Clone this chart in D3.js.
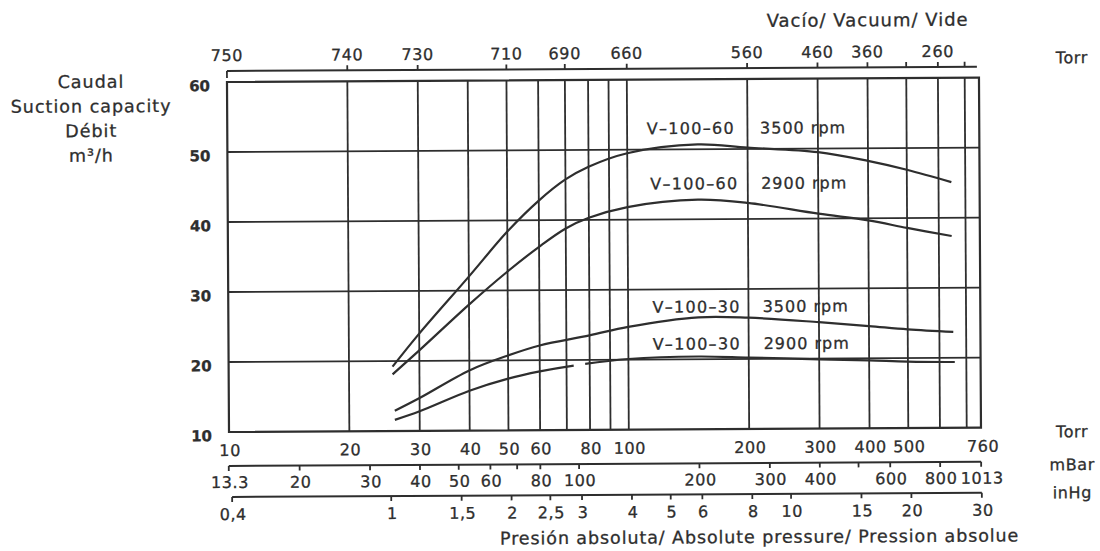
<!DOCTYPE html>
<html>
<head>
<meta charset="utf-8">
<script src="https://cdn.jsdelivr.net/npm/d3@7"></script>
<style>
body { margin: 0; background: #fff; }
svg text { font-family: "DejaVu Sans", sans-serif; fill: #2e2e2e; stroke: #2e2e2e; stroke-width: 0.3px; }
</style>
</head>
<body>
<svg width="1100" height="551"></svg>
<script>
var width = 1100;
var height = 551;
var plotLeft = 229, plotRight = 981, plotTop = 82, plotBottom = 432;
var tilt = -0.33; // the scan is slightly rotated

// absolute pressure (Torr) -> suction capacity (m3/h)
var p60_3500 = [25.7, 30, 40, 50, 60, 70, 80, 100, 150, 200, 300, 400, 500, 646];
var q60_3500 = [19.2, 23.9, 32.0, 38.4, 42.8, 45.8, 47.6, 49.5, 50.7, 50.2, 49.5, 48.2, 46.9, 45.1];
var p60_2900 = [25.7, 30, 40, 50, 60, 70, 80, 100, 150, 200, 300, 400, 500, 646];
var q60_2900 = [18.1, 21.5, 28.0, 32.7, 36.2, 38.8, 40.3, 41.8, 42.8, 42.3, 40.7, 39.7, 38.6, 37.4];
var p30_3500 = [26, 30, 40, 50, 60, 80, 100, 150, 200, 300, 400, 500, 650];
var q30_3500 = [12.9, 14.7, 18.6, 20.7, 22.1, 23.5, 24.7, 26.0, 25.9, 25.2, 24.6, 24.1, 23.7];
var p30_2900 = [26, 30, 40, 50, 60, 75, 100, 150, 200, 300, 400, 500, 655];
var q30_2900 = [11.6, 12.8, 15.7, 17.4, 18.4, 19.3, 20.1, 20.4, 20.2, 19.9, 19.7, 19.5, 19.4];
var gap30_2900 = [73, 78]; // small break in the printed line

var seriesNames = ["V–100–60", "V–100–60", "V–100–30", "V–100–30"];
var seriesSpeeds = ["3500 rpm", "2900 rpm", "3500 rpm", "2900 rpm"];
var nameAtTorr = [112, 114, 115, 115];
var speedAtTorr = [215, 216, 217, 218];
var labelAtQ = [52.2, 44.3, 26.7, 21.4];

// axes
var yTicks = [10, 20, 30, 40, 50, 60];
var gridTorr = [20, 30, 40, 50, 60, 70, 80, 90, 100, 200, 300, 400, 500, 600, 700];
var torrTicks = [10, 20, 30, 40, 50, 60, 80, 100, 200, 300, 400, 500, 760];
var vacTickTorr = [10, 20, 30, 50, 70, 100, 200, 300, 400, 500, 600, 700];
var vacLabels = ["750", "740", "730", "710", "690", "660", "560", "460", "360", "", "260", ""];
var mbarTicks = [13.3, 20, 30, 40, 50, 60, 70, 80, 100, 200, 300, 400, 500, 600, 800, 1013];
var mbarLabels = ["13.3", "20", "30", "40", "50", "60", "", "80", "100", "200", "300", "400", "", "600", "800", "1013"];
var inhgTicks = [0.4, 1, 1.5, 2, 2.5, 3, 4, 5, 6, 8, 10, 15, 20, 30];
var inhgLabels = ["0,4", "1", "1,5", "2", "2,5", "3", "4", "5", "6", "8", "10", "15", "20", "30"];
var yTitle = ["Caudal", "Suction capacity", "Débit", "m³/h"];

var ink = "#2e2e2e";

var x = d3.scaleLog().domain([10, 760]).range([plotLeft, plotRight]);
var y = d3.scaleLinear().domain([10, 60]).range([plotBottom, plotTop]);

var svg = d3.select('svg')
    .attr('width', width)
    .attr('height', height);

var g = svg.append('g')
    .attr('transform', 'rotate(' + tilt + ',' + plotLeft + ',' + plotBottom + ')');

// grid
g.selectAll('.vgrid')
  .data(gridTorr)
  .enter()
  .append('line')
    .attr('x1', d => x(d)).attr('x2', d => x(d))
    .attr('y1', plotTop).attr('y2', plotBottom)
    .attr('stroke', ink).attr('stroke-width', 1.8);

g.selectAll('.hgrid')
  .data(yTicks.slice(1, -1))
  .enter()
  .append('line')
    .attr('x1', plotLeft).attr('x2', plotRight)
    .attr('y1', d => y(d)).attr('y2', d => y(d))
    .attr('stroke', ink).attr('stroke-width', 1.8);

g.append('rect')
    .attr('x', plotLeft).attr('y', plotTop)
    .attr('width', plotRight - plotLeft).attr('height', plotBottom - plotTop)
    .attr('fill', 'none').attr('stroke', ink).attr('stroke-width', 2.2);

// y labels
g.selectAll('.ylab')
  .data(yTicks)
  .enter()
  .append('text')
    .attr('x', 212)
    .attr('y', d => y(d) + 9)
    .attr('text-anchor', 'end')
    .attr('font-size', 15)
    .attr('font-weight', 'bold')
    .text(d => d);

g.selectAll('.ytitle')
  .data(yTitle)
  .enter()
  .append('text')
    .attr('x', 93)
    .attr('y', (d, i) => 87 + i * 24.6)
    .attr('text-anchor', 'middle')
    .attr('font-size', 17.5)
    .attr('letter-spacing', 1)
    .text(d => d);

// top vacuum axis
var topY = 71;
g.append('line')
    .attr('x1', x(10)).attr('x2', plotRight - 2)
    .attr('y1', topY).attr('y2', topY)
    .attr('stroke', ink).attr('stroke-width', 2);
g.selectAll('.vtick')
  .data(vacTickTorr)
  .enter()
  .append('line')
    .attr('x1', d => x(d)).attr('x2', d => x(d))
    .attr('y1', topY)
    .attr('y2', (d, i) => i === 0 ? topY + 7 : topY - 5)
    .attr('stroke', ink).attr('stroke-width', 1.8);
g.selectAll('.vlab')
  .data(vacTickTorr)
  .enter()
  .append('text')
    .attr('x', d => x(d))
    .attr('y', 61)
    .attr('text-anchor', 'middle')
    .attr('font-size', 16)
    .attr('letter-spacing', 0.6)
    .text((d, i) => vacLabels[i]);

g.append('text')
    .attr('x', 870).attr('y', 30)
    .attr('text-anchor', 'middle')
    .attr('font-size', 18)
    .attr('letter-spacing', 1)
    .text('Vacío/ Vacuum/ Vide');

g.append('text')
    .attr('x', 1074).attr('y', 68)
    .attr('text-anchor', 'middle')
    .attr('font-size', 16)
    .attr('letter-spacing', 0.6)
    .text('Torr');

// bottom Torr labels
g.selectAll('.tlab')
  .data(torrTicks)
  .enter()
  .append('text')
    .attr('x', d => d === 760 ? x(d) + 2 : x(d) + 1)
    .attr('y', 456)
    .attr('text-anchor', 'middle')
    .attr('font-size', 16)
    .attr('letter-spacing', 0.6)
    .text(d => d);

// mBar axis
var mbarY = 466;
g.append('line')
    .attr('x1', x(mbarTicks[0] * 0.750062)).attr('x2', x(1013 * 0.750062))
    .attr('y1', mbarY).attr('y2', mbarY)
    .attr('stroke', ink).attr('stroke-width', 2);
g.selectAll('.mtick')
  .data(mbarTicks)
  .enter()
  .append('line')
    .attr('x1', d => x(d * 0.750062)).attr('x2', d => x(d * 0.750062))
    .attr('y1', mbarY).attr('y2', mbarY + 5)
    .attr('stroke', ink).attr('stroke-width', 1.8);
g.selectAll('.mlab')
  .data(mbarTicks)
  .enter()
  .append('text')
    .attr('x', d => x(d * 0.750062) + 1)
    .attr('y', 488)
    .attr('text-anchor', 'middle')
    .attr('font-size', 16)
    .attr('letter-spacing', 0.6)
    .text((d, i) => mbarLabels[i]);

// inHg axis
var inhgY = 497;
g.append('line')
    .attr('x1', x(inhgTicks[0] * 25.4)).attr('x2', x(30 * 25.4))
    .attr('y1', inhgY).attr('y2', inhgY)
    .attr('stroke', ink).attr('stroke-width', 2);
g.selectAll('.htick')
  .data(inhgTicks)
  .enter()
  .append('line')
    .attr('x1', d => x(d * 25.4)).attr('x2', d => x(d * 25.4))
    .attr('y1', inhgY).attr('y2', inhgY + 5)
    .attr('stroke', ink).attr('stroke-width', 1.8);
g.selectAll('.hlab')
  .data(inhgTicks)
  .enter()
  .append('text')
    .attr('x', d => x(d * 25.4) + 1)
    .attr('y', 520)
    .attr('text-anchor', 'middle')
    .attr('font-size', 16)
    .attr('letter-spacing', 0.6)
    .text((d, i) => inhgLabels[i]);

g.selectAll('.unit')
  .data(['Torr', 'mBar', 'inHg'])
  .enter()
  .append('text')
    .attr('x', 1072)
    .attr('y', (d, i) => [442, 475, 503][i])
    .attr('text-anchor', 'middle')
    .attr('font-size', 16)
    .attr('letter-spacing', 0.6)
    .text(d => d);

g.append('text')
    .attr('x', 759).attr('y', 546)
    .attr('text-anchor', 'middle')
    .attr('font-size', 17.5)
    .attr('letter-spacing', 0.9)
    .text('Presión absoluta/ Absolute pressure/ Pression absolue');

// curves
var line = d3.line()
    .x(d => x(d[0]))
    .y(d => y(d[1]))
    .curve(d3.curveCatmullRom.alpha(0.5));

var curves = [
  d3.zip(p60_3500, q60_3500),
  d3.zip(p60_2900, q60_2900),
  d3.zip(p30_3500, q30_3500),
  d3.zip(p30_2900, q30_2900)
];

var paths = g.selectAll('.curve')
  .data(curves)
  .enter()
  .append('path')
    .attr('d', line)
    .attr('fill', 'none')
    .attr('stroke', ink)
    .attr('stroke-width', 2.2);

// break in the lowest line
var last = paths.nodes()[3];
var total = last.getTotalLength();
function lengthAtX(px) {
  var lo = 0, hi = total;
  for (var k = 0; k < 30; k++) {
    var mid = (lo + hi) / 2;
    if (last.getPointAtLength(mid).x < px) lo = mid; else hi = mid;
  }
  return lo;
}
var l1 = lengthAtX(x(gap30_2900[0]));
var l2 = lengthAtX(x(gap30_2900[1]));
d3.select(last).attr('stroke-dasharray', l1 + ' ' + (l2 - l1) + ' ' + total);

// labels
g.selectAll('.sname')
  .data(seriesNames)
  .enter()
  .append('text')
    .attr('x', (d, i) => x(nameAtTorr[i]))
    .attr('y', (d, i) => y(labelAtQ[i]))
    .attr('font-size', 16)
    .attr('letter-spacing', 1.3)
    .text(d => d);

g.selectAll('.sspeed')
  .data(seriesSpeeds)
  .enter()
  .append('text')
    .attr('x', (d, i) => x(speedAtTorr[i]))
    .attr('y', (d, i) => y(labelAtQ[i]))
    .attr('font-size', 16)
    .attr('letter-spacing', 1)
    .text(d => d);
</script>
</body>
</html>
